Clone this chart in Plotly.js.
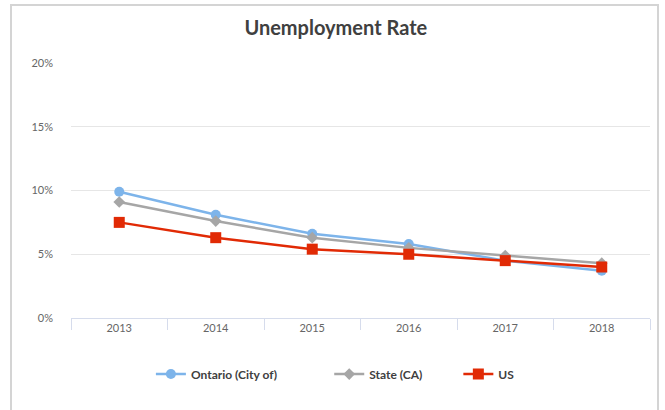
<!DOCTYPE html>
<html>
<head>
<meta charset="utf-8">
<script src="https://cdn.plot.ly/plotly-3.0.1.min.js"></script>
<style>
  html, body { margin: 0; padding: 0; background: #fff; }
  #frame { position: absolute; left: 10px; top: 4px; width: 649px; height: 420px; border: 2px solid #d4d4d4; box-sizing: border-box; }
  #chart { position: absolute; left: 0; top: 0; width: 665px; height: 410px; }
</style>
</head>
<body>
<div id="chart"></div>
<div id="frame"></div>
<script>
const years = ['2013', '2014', '2015', '2016', '2017', '2018'];
const ontario = [9.9, 8.1, 6.6, 5.8, 4.5, 3.7];
const stateCA = [9.1, 7.6, 6.3, 5.5, 4.9, 4.3];
const us = [7.5, 6.3, 5.4, 5.0, 4.5, 4.0];
const seriesNames = ['Ontario (City of)', 'State (CA)', 'US'];
const yTicks = [0, 5, 10, 15, 20];

const traces = [
  { x: years, y: ontario, name: seriesNames[0], type: 'scatter', mode: 'lines+markers', legend: 'legend',
    line: { color: '#7db4ea', width: 2.5 }, marker: { symbol: 'circle', size: 10, color: '#7db4ea' } },
  { x: years, y: stateCA, name: seriesNames[1], type: 'scatter', mode: 'lines+markers', legend: 'legend2',
    line: { color: '#a6a6a6', width: 2.5 }, marker: { symbol: 'diamond', size: 9, color: '#a6a6a6' } },
  { x: years, y: us, name: seriesNames[2], type: 'scatter', mode: 'lines+markers', legend: 'legend3',
    line: { color: '#e12a05', width: 2.5 }, marker: { symbol: 'square', size: 11, color: '#e12a05' } }
];

const legendBase = {
  orientation: 'h', y: -0.163, yanchor: 'top', xanchor: 'left',
  font: { size: 12, color: '#404040', family: 'Lato, sans-serif', weight: 'bold' },
  itemwidth: 30, bgcolor: 'rgba(0,0,0,0)'
};

const layout = {
  width: 665, height: 410,
  margin: { l: 71, r: 15, t: 63, b: 92, autoexpand: false },
  paper_bgcolor: 'rgba(0,0,0,0)', plot_bgcolor: '#fff',
  font: { family: 'Lato, "Open Sans", sans-serif', color: '#666' },
  title: { text: '<b>Unemployment Rate</b>', x: 0.505, xanchor: 'center', y: 0.932, yanchor: 'middle',
           font: { family: 'Lato, sans-serif', size: 20, color: '#404040' } },
  xaxis: {
    type: 'category', tickson: 'boundaries', ticks: 'outside', ticklen: 11, tickcolor: '#d6dcec', tickwidth: 1,
    showline: true, linecolor: '#d6dcec', linewidth: 1, showgrid: false, zeroline: false,
    tickfont: { size: 11, color: '#666' }, range: [-0.5, 5.5]
  },
  yaxis: {
    range: [0, 20], tickvals: yTicks, ticktext: yTicks.map(v => v + '%'),
    showgrid: true, gridcolor: '#e6e6e6', gridwidth: 1, zeroline: false, showline: false,
    tickfont: { size: 11, color: '#666' }, ticks: '', ticklabelstandoff: 17
  },
  showlegend: true,
  legend: Object.assign({}, legendBase, { x: 0.138 }),
  legend2: Object.assign({}, legendBase, { x: 0.446 }),
  legend3: Object.assign({}, legendBase, { x: 0.669 }),
  hovermode: false
};

Plotly.newPlot('chart', traces, layout, { displayModeBar: false, staticPlot: true });
</script>
</body>
</html>
